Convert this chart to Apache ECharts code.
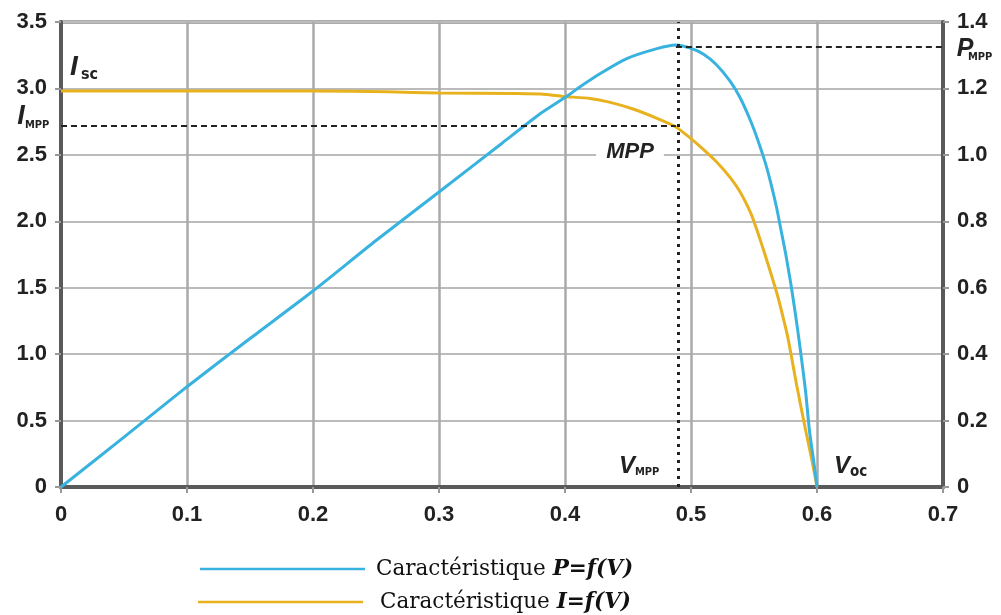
<!DOCTYPE html>
<html>
<head>
<meta charset="utf-8">
<script src="https://cdn.jsdelivr.net/npm/echarts@6/dist/echarts.min.js"></script>
<style>html,body{margin:0;padding:0;background:#fff}#c{width:1001px;height:615px}</style>
</head>
<body>
<div id="c"></div>
<script>
// Voltage (V) and current (A) for I=f(V)
const vI = [0, 0.1, 0.2, 0.259, 0.3, 0.362, 0.385, 0.398, 0.42, 0.436, 0.454, 0.473, 0.488, 0.499, 0.51, 0.52, 0.531, 0.539, 0.547, 0.551, 0.556, 0.563, 0.569, 0.573, 0.577, 0.584, 0.5905, 0.596, 0.6];
const iVals = [2.98, 2.98, 2.98, 2.975, 2.965, 2.962, 2.955, 2.94, 2.925, 2.895, 2.845, 2.775, 2.71, 2.63, 2.54, 2.45, 2.33, 2.22, 2.07, 1.97, 1.83, 1.62, 1.43, 1.28, 1.12, 0.76, 0.45, 0.20, 0];
// Voltage (V) and power (W) for P=f(V)
const vP = [0, 0.05, 0.1, 0.15, 0.2, 0.25, 0.3, 0.35, 0.38, 0.403, 0.41, 0.428, 0.449, 0.473, 0.488, 0.499, 0.51, 0.52, 0.531, 0.539, 0.547, 0.553, 0.559, 0.563, 0.568, 0.571, 0.575, 0.579, 0.583, 0.587, 0.591, 0.594, 0.598, 0.6];
const pVals = [0, 0.150, 0.302, 0.447, 0.590, 0.742, 0.888, 1.035, 1.123, 1.180, 1.200, 1.245, 1.290, 1.320, 1.331, 1.322, 1.303, 1.272, 1.222, 1.172, 1.105, 1.045, 0.976, 0.920, 0.840, 0.782, 0.705, 0.617, 0.518, 0.407, 0.286, 0.17, 0.06, 0];
// MPP
const vMpp = 0.488, iMpp = 2.72, pMpp = 1.326;
// tick labels
const xTickLabels = ['0', '0.1', '0.2', '0.3', '0.4', '0.5', '0.6', '0.7'];
const yLeftLabels = ['0', '0.5', '1.0', '1.5', '2.0', '2.5', '3.0', '3.5'];
const yRightLabels = ['0', '0.2', '0.4', '0.6', '0.8', '1.0', '1.2', '1.4'];
const legendNames = ['P', 'I'];

const BLUE = '#38b2de', YEL = '#e8b21f';
const tickFont = {fontFamily: 'Liberation Sans', fontWeight: 'bold', fontSize: 22, color: '#222'};
const axLine = {show: true, lineStyle: {color: '#5a5a5a', width: 4}};
const axTick = {show: true, length: 6, lineStyle: {color: '#999', width: 2}};

const chart = echarts.init(document.getElementById('c'), null, {renderer: 'canvas'});
const lbl = (t, x, y, size, extra) => Object.assign({
  type: 'text', z: 100, silent: true,
  style: Object.assign({text: t, x: x, y: y, fill: '#222',
    font: 'italic bold ' + size + 'px "Liberation Sans"',
    textAlign: 'center', textVerticalAlign: 'middle'}, extra || {})
});
const sub = (t, x, y, size) => ({
  type: 'text', z: 100, silent: true,
  style: {text: t, x: x, y: y, fill: '#222', font: 'bold ' + size + 'px "DejaVu Sans Condensed"',
    textAlign: 'left', textVerticalAlign: 'middle'}
});
const legendText = (pad) => ({fontFamily: 'DejaVu Serif', fontSize: 21.5, color: '#111', padding: [0, 0, 0, pad],
  rich: {b: {fontFamily: 'DejaVu Serif', fontSize: 21.5, fontWeight: 'bold', fontStyle: 'italic', color: '#111'}}});

chart.setOption({
  animation: false,
  backgroundColor: '#fff',
  grid: {left: 61, right: 58, top: 22, bottom: 128, show: true, borderColor: '#5a5a5a', borderWidth: 3, backgroundColor: 'transparent'},
  xAxis: {
    type: 'value', min: 0, max: 0.7, interval: 0.1,
    axisLine: axLine, axisTick: axTick,
    axisLabel: Object.assign({margin: 17, formatter: (v, i) => xTickLabels[i]}, tickFont),
    splitLine: {show: true, lineStyle: {color: '#aaa', width: 2.5}}
  },
  yAxis: [{
    type: 'value', min: 0, max: 3.5, interval: 0.5,
    axisLine: axLine, axisTick: axTick,
    axisLabel: Object.assign({margin: 14, formatter: (v, i) => yLeftLabels[i]}, tickFont),
    splitLine: {show: true, lineStyle: {color: '#bbb', width: 2}}
  }, {
    type: 'value', min: 0, max: 1.4, interval: 0.2, position: 'right',
    axisLine: axLine, axisTick: axTick,
    axisLabel: Object.assign({margin: 14, formatter: (v, i) => yRightLabels[i]}, tickFont),
    splitLine: {show: false}
  }],
  legend: [{
    data: [legendNames[0]], left: 195, top: 553, icon: 'rect', itemWidth: 165, itemHeight: 2.5,
    selectedMode: false,
    formatter: () => 'Caractéristique {b|P=f(V)}',
    textStyle: legendText(6)
  }, {
    data: [legendNames[1]], left: 193, top: 586, icon: 'rect', itemWidth: 165, itemHeight: 2.5,
    selectedMode: false,
    formatter: () => 'Caractéristique {b|I=f(V)}',
    textStyle: legendText(12)
  }],
  series: [{
    name: legendNames[1], type: 'line', yAxisIndex: 0, showSymbol: false, smooth: 0.2,
    data: vI.map((v, k) => [v, iVals[k]]),
    lineStyle: {color: YEL, width: 3}, itemStyle: {color: YEL}, z: 3,
    markLine: {
      silent: true, symbol: 'none', label: {show: false},
      lineStyle: {color: '#222', width: 2, type: [6, 4]},
      data: [[{coord: [0, iMpp]}, {coord: [vMpp, iMpp]}]]
    }
  }, {
    name: legendNames[0], type: 'line', yAxisIndex: 1, showSymbol: false, smooth: 0.2,
    data: vP.map((v, k) => [v, pVals[k]]),
    lineStyle: {color: BLUE, width: 3}, itemStyle: {color: BLUE}, z: 4,
    markLine: {
      silent: true, symbol: 'none', label: {show: false},
      lineStyle: {color: '#222', width: 2, type: [6, 4]},
      data: [
        [{coord: [vMpp, pMpp]}, {coord: [0.7, pMpp]}],
        {xAxis: vMpp, lineStyle: {color: '#222', width: 3, type: [3, 5]}}
      ]
    }
  }],
  graphic: [
    lbl('I', 74, 67, 28), sub('sc', 81, 75, 16),
    lbl('I', 21, 117, 27), sub('MPP', 25, 125, 11),
    lbl('MPP', 630, 152, 22, {backgroundColor: '#fff', padding: [2, 10, 2, 10]}),
    lbl('V', 627, 466, 24), sub('MPP', 635, 472, 11),
    lbl('V', 842, 466, 24), sub('oc', 850, 472, 15),
    lbl('P', 965, 49, 25), sub('MPP', 968, 57, 11)
  ]
});
</script>
</body>
</html>
